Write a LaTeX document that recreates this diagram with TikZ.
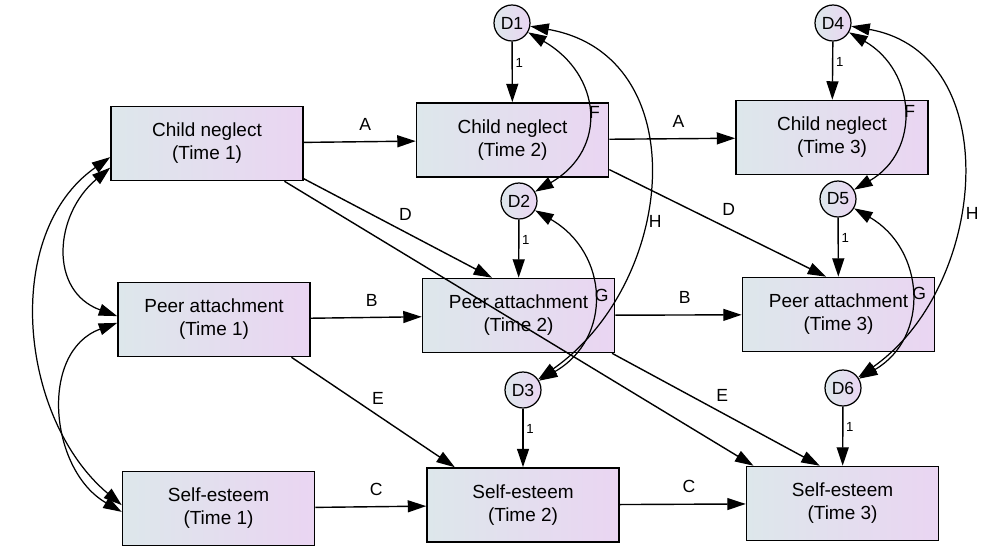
\documentclass[tikz,border=0pt]{standalone}
\usepackage{fontspec}
\setmainfont{Liberation Sans}
\usepackage{xcolor}
\usepackage{tikz}
\usetikzlibrary{shapes.geometric,arrows.meta,positioning,calc}

\definecolor{shadeleft}{RGB}{221,231,235}
\definecolor{shaderight}{RGB}{234,213,242}

\begin{document}
\begin{tikzpicture}[
        x=0.02cm, y=0.02cm,
        observed/.style={draw, rectangle, line width=0.9pt, minimum width=3.84cm, minimum height=1.48cm, left color=shadeleft, right color=shaderight, align=center, font=\fontsize{10.8}{13}\selectfont},
        residual/.style={draw, circle, line width=0.7pt, minimum size=0.72cm, inner sep=0pt, left color=shadeleft, right color=shaderight, font=\fontsize{10}{12}\selectfont},
        regress/.style={-{Triangle[length=10.5pt,width=6.8pt]}, line width=0.8pt},
        covary/.style={{Triangle[length=10.5pt,width=6.8pt]}-{Triangle[length=10.5pt,width=6.8pt]}, line width=0.7pt},
        coef/.style={font=\fontsize{10}{12}\selectfont, inner sep=1pt},
        unit/.style={font=\fontsize{7.5}{9}\selectfont, inner sep=1.5pt}
    ]
        \useasboundingbox (0,0) rectangle (981,-548);

        % observed variables, three waves
        \node[observed] (CN1) at (207,-143.5) {Child neglect\\(Time 1)};
        \node[observed] (PA1) at (214,-319.5) {Peer attachment\\(Time 1)};
        \node[observed] (SE1) at (218.5,-508.5) {Self-esteem\\(Time 1)};
        \node[observed] (CN2) at (512.5,-140) {Child neglect\\(Time 2)};
        \node[observed] (PA2) at (518.5,-315.5) {Peer attachment\\(Time 2)};
        \node[observed] (SE2) at (523,-505) {Self-esteem\\(Time 2)};
        \node[observed] (CN3) at (832,-137.5) {Child neglect\\(Time 3)};
        \node[observed] (PA3) at (838.5,-314.5) {Peer attachment\\(Time 3)};
        \node[observed] (SE3) at (842.5,-503.5) {Self-esteem\\(Time 3)};

        % disturbances
        \node[residual] (D1) at (512,-23) {D1};
        \node[residual] (D2) at (519,-201) {D2};
        \node[residual] (D3) at (523,-390) {D3};
        \node[residual] (D4) at (833,-23) {D4};
        \node[residual] (D5) at (838,-199) {D5};
        \node[residual] (D6) at (843,-388) {D6};

        % stability paths
        \draw[regress] (CN1) -- node[coef, pos=.55, above=5pt] {A} (CN2);
        \draw[regress] (CN2) -- node[coef, pos=.55, above=5pt] {A} (CN3);
        \draw[regress] (PA1) -- node[coef, pos=.55, above=5pt] {B} (PA2);
        \draw[regress] (PA2) -- node[coef, pos=.55, above=5pt] {B} (PA3);
        \draw[regress] (SE1) -- node[coef, pos=.55, above=5pt] {C} (SE2);
        \draw[regress] (SE2) -- node[coef, pos=.55, above=5pt] {C} (SE3);

        % cross-lagged paths
        \draw[regress] (CN1.-20) -- node[coef, pos=.54, above=5pt] {D} (PA2.125);
        \draw[regress] (CN2.-17) -- node[coef, pos=.55, above=6pt] {D} (PA3.108);
        \draw[regress] (PA1.-26) -- node[coef, pos=.53, above=5pt] {E} (SE2.151);
        \draw[regress] (PA2.-22) -- node[coef, pos=.53, above=5pt] {E} (SE3.121);
        \draw[regress] (CN1.-26) -- (SE3.157);

        % disturbance loadings
        \draw[regress] (D1) -- node[unit, right, pos=.35] {1} (CN2);
        \draw[regress] (D2) -- node[unit, right, pos=.35] {1} (PA2);
        \draw[regress] (D3) -- node[unit, right, pos=.35] {1} (SE2);
        \draw[regress] (D4) -- node[unit, right, pos=.35] {1} (CN3);
        \draw[regress] (D5) -- node[unit, right, pos=.35] {1} (PA3);
        \draw[regress] (D6) -- node[unit, right, pos=.35] {1} (SE3);

        % covariances at time 1
        \draw[covary] (CN1.194) to[out=220, in=160, looseness=1.26] (PA1.178);
        \draw[covary] (PA1.182) to[out=200, in=150, looseness=1.13] (SE1.182);
        \draw[covary] (CN1.188) to[out=215, in=140, looseness=0.98] (SE1.178);

        % correlated disturbances
        \draw[covary] (D1) to[out=-30, in=30, looseness=1.36] node[coef, pos=.5, right] {F} (D2);
        \draw[covary] (D2) to[out=-30, in=30, looseness=1.28] node[coef, pos=.5, right] {G} (D3);
        \draw[covary] (D1) to[out=-10, in=35, looseness=1.22] node[coef, pos=.6, right=2pt] {H} (D3);
        \draw[covary] (D4) to[out=-30, in=30, looseness=1.26] node[coef, pos=.5, right] {F} (D5);
        \draw[covary] (D5) to[out=-30, in=30, looseness=1.23] node[coef, pos=.5, right] {G} (D6);
        \draw[covary] (D4) to[out=-10, in=35, looseness=1.15] node[coef, pos=.58, right=3pt] {H} (D6);
\end{tikzpicture}
\end{document}
